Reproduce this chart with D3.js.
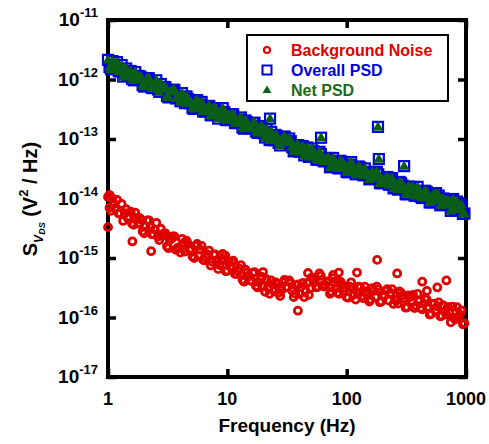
<!DOCTYPE html>
<html>
<head>
<meta charset="utf-8">
<script src="https://cdn.jsdelivr.net/npm/d3@7"></script>
<style>
  html, body { margin: 0; padding: 0; background: #fff; }
  svg { display: block; font-family: Arial, "Liberation Sans", sans-serif; }
</style>
</head>
<body>
<svg id="chart" width="489" height="444"></svg>
<script>
// Frequency grid (Hz), first sweep
const freqHz = [
  1.00,1.06,1.12,1.19,1.26,1.34,1.42,1.50,1.59,1.69,
  1.79,1.90,2.01,2.13,2.26,2.40,2.54,2.69,2.85,3.03,
  3.21,3.40,3.60,3.82,4.05,4.29,4.55,4.82,5.11,5.42,
  5.74,6.09,6.45,6.84,7.25,7.69,8.15,8.64,9.15,9.70,
  10.3,10.9,11.6,12.3,13.0,13.8,14.6,15.5,16.4,17.4,
  18.4,19.5,20.7,21.9,23.3,24.7,26.1,27.7,29.4,31.1,
  33.0,35.0,37.1,39.3,41.6,44.1,46.8,49.6,52.6,55.7,
  59.1,62.6,66.4,70.4,74.6,79.1,83.8,88.8,94.2,99.8,
  106,112,119,126,134,142,150,159,169,179,
  190,201,213,226,240,254,269,285,303,321,
  340,360,382,405,429,455,482,511,542,574,
  609,645,684,725,769,815,864,915,970
];

// Frequency grid (Hz), second sweep (interleaved)
const freqHzB = [
  1.03,1.09,1.15,1.23,1.30,1.38,1.46,1.55,1.64,1.74,
  1.84,1.95,2.07,2.20,2.33,2.47,2.62,2.77,2.94,3.12,
  3.30,3.50,3.71,3.93,4.17,4.42,4.69,4.97,5.27,5.58,
  5.92,6.27,6.65,7.05,7.47,7.92,8.39,8.90,9.43,9.99,
  10.6,11.2,11.9,12.6,13.4,14.2,15.0,16.0,16.9,17.9,
  19.0,20.1,21.3,22.6,24.0,25.4,26.9,28.5,30.2,32.0,
  34.0,36.0,38.2,40.5,42.9,45.4,48.2,51.1,54.1,57.4,
  60.8,64.5,68.4,72.5,76.8,81.4,86.3,91.5,96.9,103,
  109,115,122,130,138,146,155,164,174,184,
  195,207,219,233,247,261,277,294,312,330,
  350,371,393,417,442,468,496,526,558,591,
  627,664,704,746,791,839,889,942
];

// Overall PSD, S_VDS (V^2/Hz), first sweep
const overallPSD = [
  2.14e-12,1.49e-12,1.77e-12,1.96e-12,1.37e-12,1.12e-12,1.53e-12,1.25e-12,1.03e-12,1.33e-12,
  1.0e-12,1.08e-12,7.6e-13,1.05e-12,8.7e-13,7.2e-13,9.7e-13,6.2e-13,7.0e-13,7.4e-13,
  5.0e-13,6.4e-13,6.7e-13,5.0e-13,4.3e-13,5.0e-13,5.2e-13,4.0e-13,3.3e-13,4.3e-13,
  3.3e-13,4.2e-13,2.9e-13,3.3e-13,2.5e-13,3.3e-13,2.8e-13,2.5e-13,3.3e-13,2.1e-13,
  2.5e-13,2.6e-13,1.86e-13,1.98e-13,2.3e-13,1.49e-13,1.91e-13,1.54e-13,1.85e-13,1.33e-13,
  1.45e-13,1.65e-13,1.06e-13,1.16e-13,1.32e-13,9.5e-14,1.11e-13,7.8e-14,1.05e-13,8.9e-14,
  1.02e-13,7.3e-14,6.5e-14,7.9e-14,7.1e-14,5.3e-14,7.2e-14,5.5e-14,6.2e-14,4.5e-14,
  6.1e-14,4.4e-14,4.4e-14,4.8e-14,3.4e-14,4.15e-14,3.3e-14,4.3e-14,3.35e-14,2.8e-14,
  3.7e-14,3.4e-14,2.55e-14,3.45e-14,2.6e-14,3.2e-14,2.5e-14,2.2e-14,2.6e-14,2.8e-14,
  1.81e-14,2.1e-14,2.2e-14,1.7e-14,2.2e-14,1.62e-14,1.41e-14,1.83e-14,1.51e-14,1.18e-14,
  1.52e-14,1.56e-14,1.17e-14,1.28e-14,1.02e-14,1.35e-14,1.06e-14,8.6e-15,1.11e-14,1.02e-14,
  7.7e-15,1.0e-14,7.8e-15,8.0e-15,9.2e-15,6.5e-15,6.7e-15,7.9e-15,5.6e-15
];

// Overall PSD, second sweep
const overallPSDB = [
  1.61e-12,2.04e-12,1.57e-12,1.38e-12,1.75e-12,1.37e-12,1.2e-12,1.39e-12,9.7e-13,1.16e-12,
  1.14e-12,8.0e-13,8.9e-13,1.05e-12,7.2e-13,8.3e-13,6.8e-13,8.4e-13,7.5e-13,5.3e-13,
  6.2e-13,6.7e-13,4.8e-13,5.0e-13,5.9e-13,4.0e-13,4.7e-13,4.1e-13,3.2e-13,4.5e-13,
  3.8e-13,2.9e-13,3.1e-13,3.6e-13,2.7e-13,3.3e-13,2.2e-13,2.8e-13,2.85e-13,2.07e-13,
  2.25e-13,2.6e-13,1.85e-13,2.1e-13,1.56e-13,2.05e-13,1.7e-13,1.5e-13,1.88e-13,1.27e-13,
  1.55e-13,1.25e-13,1.47e-13,9.6e-14,1.17e-13,1.17e-13,8.6e-14,8.8e-14,1.1e-13,8.7e-14,
  9.2e-14,6.2e-14,7.9e-14,6.1e-14,7.6e-14,6.0e-14,5.0e-14,6.9e-14,5.5e-14,4.5e-14,
  5.6e-14,4.2e-14,4.7e-14,3.35e-14,4.8e-14,3.7e-14,3.2e-14,4.0e-14,3.6e-14,2.75e-14,
  4.1e-14,2.9e-14,3.07e-14,3.3e-14,2.45e-14,2.8e-14,2.1e-14,2.8e-14,2.2e-14,2.55e-14,
  1.81e-14,2.0e-14,2.3e-14,2.05e-14,1.48e-14,1.55e-14,1.9e-14,1.66e-14,1.18e-14,1.59e-14,
  1.36e-14,1.11e-14,1.57e-14,1.07e-14,1.18e-14,1.29e-14,8.6e-15,1.11e-14,9.3e-15,1.12e-14,
  7.8e-15,8.5e-15,9.4e-15,6.2e-15,6.8e-15,8.9e-15,7.2e-15,5.5e-15
];

// Net PSD (overall minus background), first sweep
const netPSD = [
  2.13e-12,1.48e-12,1.76e-12,1.95e-12,1.36e-12,1.11e-12,1.52e-12,1.24e-12,1.02e-12,1.32e-12,
  1.0e-12,1.08e-12,7.6e-13,1.05e-12,8.7e-13,7.2e-13,9.7e-13,6.2e-13,7.0e-13,7.4e-13,
  5.0e-13,6.4e-13,6.7e-13,5.0e-13,4.3e-13,5.0e-13,5.2e-13,4.0e-13,3.3e-13,4.3e-13,
  3.3e-13,4.2e-13,2.9e-13,3.3e-13,2.5e-13,3.3e-13,2.8e-13,2.5e-13,3.3e-13,2.1e-13,
  2.5e-13,2.6e-13,1.86e-13,1.98e-13,2.3e-13,1.49e-13,1.91e-13,1.54e-13,1.85e-13,1.33e-13,
  1.45e-13,1.65e-13,1.06e-13,1.16e-13,1.32e-13,9.5e-14,1.11e-13,7.8e-14,1.05e-13,8.9e-14,
  1.02e-13,7.3e-14,6.5e-14,7.9e-14,7.1e-14,5.3e-14,7.2e-14,5.5e-14,6.2e-14,4.5e-14,
  6.1e-14,4.4e-14,4.4e-14,4.8e-14,3.4e-14,4.15e-14,3.3e-14,4.3e-14,3.35e-14,2.8e-14,
  3.7e-14,3.4e-14,2.55e-14,3.45e-14,2.6e-14,3.2e-14,2.5e-14,2.2e-14,2.6e-14,2.8e-14,
  1.81e-14,2.1e-14,2.2e-14,1.7e-14,2.2e-14,1.62e-14,1.41e-14,1.83e-14,1.51e-14,1.18e-14,
  1.52e-14,1.56e-14,1.17e-14,1.28e-14,1.02e-14,1.35e-14,1.06e-14,8.6e-15,1.11e-14,1.02e-14,
  7.7e-15,1.0e-14,7.8e-15,8.0e-15,9.2e-15,6.5e-15,6.7e-15,7.9e-15,5.6e-15
];

// Net PSD, second sweep
const netPSDB = [
  1.60e-12,2.03e-12,1.56e-12,1.37e-12,1.74e-12,1.36e-12,1.2e-12,1.38e-12,9.7e-13,1.16e-12,
  1.14e-12,8.0e-13,8.9e-13,1.05e-12,7.2e-13,8.3e-13,6.8e-13,8.4e-13,7.5e-13,5.3e-13,
  6.2e-13,6.7e-13,4.8e-13,5.0e-13,5.9e-13,4.0e-13,4.7e-13,4.1e-13,3.2e-13,4.5e-13,
  3.8e-13,2.9e-13,3.1e-13,3.6e-13,2.7e-13,3.3e-13,2.2e-13,2.8e-13,2.85e-13,2.07e-13,
  2.25e-13,2.6e-13,1.85e-13,2.1e-13,1.56e-13,2.05e-13,1.7e-13,1.5e-13,1.88e-13,1.27e-13,
  1.55e-13,1.25e-13,1.47e-13,9.6e-14,1.17e-13,1.17e-13,8.6e-14,8.8e-14,1.1e-13,8.7e-14,
  9.2e-14,6.2e-14,7.9e-14,6.1e-14,7.6e-14,6.0e-14,5.0e-14,6.9e-14,5.5e-14,4.5e-14,
  5.6e-14,4.2e-14,4.7e-14,3.35e-14,4.8e-14,3.7e-14,3.2e-14,4.0e-14,3.6e-14,2.75e-14,
  4.1e-14,2.9e-14,3.07e-14,3.3e-14,2.45e-14,2.8e-14,2.1e-14,2.8e-14,2.2e-14,2.55e-14,
  1.81e-14,2.0e-14,2.3e-14,2.05e-14,1.48e-14,1.55e-14,1.9e-14,1.66e-14,1.18e-14,1.59e-14,
  1.36e-14,1.11e-14,1.57e-14,1.07e-14,1.18e-14,1.29e-14,8.6e-15,1.11e-14,9.3e-15,1.12e-14,
  7.8e-15,8.5e-15,9.4e-15,6.2e-15,6.8e-15,8.9e-15,7.2e-15,5.5e-15
];

// Background noise PSD, first sweep
const backgroundNoise = [
  1.06e-14,6.2e-15,8.1e-15,9.5e-15,5.6e-15,4.2e-15,6.6e-15,5.0e-15,3.8e-15,5.8e-15,
  3.8e-15,4.4e-15,2.6e-15,4.3e-15,3.3e-15,2.5e-15,3.9e-15,2.0e-15,2.37e-15,2.6e-15,
  1.46e-15,2.1e-15,2.3e-15,1.48e-15,1.23e-15,1.78e-15,1.95e-15,1.36e-15,1.06e-15,1.59e-15,
  1.11e-15,1.6e-15,9.1e-16,1.15e-15,7.5e-16,1.14e-15,9.1e-16,7.6e-16,1.17e-15,6.0e-16,
  8.4e-16,8.7e-16,5.4e-16,6.0e-16,7.6e-16,4.0e-16,5.7e-16,4.2e-16,5.6e-16,3.4e-16,
  3.9e-16,4.8e-16,2.7e-16,3.2e-16,4.2e-16,2.75e-16,3.7e-16,2.3e-16,3.9e-16,3.25e-16,
  4.2e-16,2.8e-16,2.5e-16,3.6e-16,3.3e-16,2.2e-16,3.8e-16,3.1e-16,4.3e-16,3.2e-16,
  5.5e-16,3.4e-16,3.5e-16,4.1e-16,2.7e-16,3.8e-16,2.6e-16,4.0e-16,2.8e-16,2.2e-16,
  3.3e-16,3.0e-16,2.0e-16,3.3e-16,2.3e-16,3.3e-16,2.4e-16,2.0e-16,2.8e-16,3.3e-16,
  1.81e-16,2.4e-16,2.8e-16,1.92e-16,3.0e-16,2.0e-16,1.71e-16,2.6e-16,2.1e-16,1.48e-16,
  2.2e-16,2.4e-16,1.58e-16,1.87e-16,1.37e-16,2.1e-16,1.51e-16,1.14e-16,1.71e-16,1.54e-16,
  1.05e-16,1.59e-16,1.12e-16,1.2e-16,1.52e-16,9.3e-17,1.0e-16,1.31e-16,8.0e-17
];

// Background noise PSD, second sweep
const backgroundNoiseB = [
  7.0e-15,1.0e-14,6.8e-15,5.6e-15,8.1e-15,5.65e-15,4.7e-15,6.0e-15,3.6e-15,4.7e-15,
  4.7e-15,2.8e-15,3.4e-15,4.3e-15,2.5e-15,3.0e-15,2.3e-15,3.1e-15,2.6e-15,1.57e-15,
  2.0e-15,2.3e-15,1.37e-15,1.5e-15,2.1e-15,1.28e-15,1.72e-15,1.43e-15,1.0e-15,1.72e-15,
  1.38e-15,9.3e-16,1.02e-15,1.33e-15,8.6e-16,1.15e-15,6.5e-16,9.1e-16,9.6e-16,6.1e-16,
  7.1e-16,9.0e-16,5.4e-16,6.7e-16,4.3e-16,6.4e-16,4.85e-16,4.1e-16,5.8e-16,3.2e-16,
  4.4e-16,3.3e-16,4.4e-16,2.5e-16,3.6e-16,3.9e-16,2.6e-16,2.9e-16,4.3e-16,3.2e-16,
  3.8e-16,2.2e-16,3.5e-16,2.5e-16,3.8e-16,2.8e-16,2.4e-16,4.7e-16,3.9e-16,3.3e-16,
  5.0e-16,3.3e-16,3.9e-16,2.5e-16,4.6e-16,3.1e-16,2.5e-16,3.6e-16,3.2e-16,2.15e-16,
  3.9e-16,2.4e-16,2.7e-16,3.2e-16,2.1e-16,2.75e-16,1.85e-16,3.1e-16,2.2e-16,3.0e-16,
  1.86e-16,2.3e-16,3.0e-16,2.6e-16,1.69e-16,1.92e-16,2.75e-16,2.35e-16,1.46e-16,2.35e-16,
  1.91e-16,1.44e-16,2.5e-16,1.44e-16,1.71e-16,2.0e-16,1.12e-16,1.69e-16,1.32e-16,1.79e-16,
  1.07e-16,1.26e-16,1.5e-16,8.3e-17,9.8e-17,1.49e-16,1.13e-16,7.7e-17
];

// Isolated spectral lines in the device spectrum
const spurFreqHz   = [22.8, 61, 183, 186, 303, 561, 780];
const spurOverall  = [2.2e-13, 1.05e-13, 1.6e-13, 4.6e-14, 3.5e-14, 1.23e-14, 9.8e-15];
const spurNet      = [2.2e-13, 1.05e-13, 1.6e-13, 4.6e-14, 3.5e-14, 1.22e-14, 9.7e-15];

// Scattered background points off the main trend
const noiseSpurFreqHz = [1.0, 1.03, 1.6, 2.3, 9.6, 19.9, 39, 47.4, 77, 85, 86, 122, 180, 265, 430, 470, 575, 685];
const noiseSpurPSD    = [3.3e-15, 1.15e-14, 1.9e-15, 1.3e-15, 1.1e-15, 5.8e-16, 1.3e-16, 5.6e-16, 5.2e-16, 3.8e-16, 5.7e-16, 5.7e-16, 9.3e-16, 5.5e-16, 4.0e-16, 2.8e-16, 3.2e-16, 4.2e-16];

// Axis ticks
const xTicks = [1, 10, 100, 1000];
const xTickLabels = ["1", "10", "100", "1000"];
const yTicks = [1e-17, 1e-16, 1e-15, 1e-14, 1e-13, 1e-12, 1e-11];
const yTickExponents = ["-17", "-16", "-15", "-14", "-13", "-12", "-11"];

// Legend entries
const legendLabels = ["Background Noise", "Overall PSD", "Net PSD"];

const RED = "#e00000", BLUE = "#0000e0", GREEN = "#0b5e18";

const svg = d3.select("#chart");
const plotLeft = 108, plotRight = 466, plotTop = 20, plotBottom = 377;

const x = d3.scaleLog().domain([1, 1000]).range([plotLeft, plotRight]);
const y = d3.scaleLog().domain([1e-17, 1e-11]).range([plotBottom, plotTop]);

// Frame
svg.append("rect")
  .attr("x", plotLeft).attr("y", plotTop)
  .attr("width", plotRight - plotLeft).attr("height", plotBottom - plotTop)
  .attr("fill", "none").attr("stroke", "#000").attr("stroke-width", 4);

// Inward ticks on all four sides
function tickAxis(axis, tx, ty) {
  const g = svg.append("g").attr("transform", `translate(${tx},${ty})`).call(axis);
  g.select(".domain").remove();
  g.selectAll(".tick line").attr("stroke", "#000").attr("stroke-width", 3.5);
  g.selectAll(".tick text").remove();
  return g;
}
tickAxis(d3.axisBottom(x).tickValues(xTicks).tickSize(-8).tickFormat(""), 0, plotBottom);
tickAxis(d3.axisTop(x).tickValues(xTicks).tickSize(-8).tickFormat(""), 0, plotTop);
tickAxis(d3.axisLeft(y).tickValues(yTicks).tickSize(-8).tickFormat(""), plotLeft, 0);
tickAxis(d3.axisRight(y).tickValues(yTicks).tickSize(-8).tickFormat(""), plotRight, 0);

// X tick labels
svg.append("g").selectAll("text").data(xTicks).join("text")
  .attr("x", d => x(d)).attr("y", 405)
  .attr("text-anchor", "middle")
  .attr("font-size", 18).attr("font-weight", "bold").attr("fill", "#000")
  .text((d, i) => xTickLabels[i]);

// Y tick labels: 10 with superscript exponent
const yl = svg.append("g").selectAll("text").data(yTicks).join("text")
  .attr("x", 98).attr("y", d => y(d) + 6)
  .attr("text-anchor", "end")
  .attr("font-weight", "bold").attr("fill", "#000");
yl.append("tspan").attr("font-size", 19).text("10");
yl.append("tspan").attr("font-size", 13).attr("dy", -9).text((d, i) => yTickExponents[i]);

// Axis titles
svg.append("text")
  .attr("x", (plotLeft + plotRight) / 2).attr("y", 432)
  .attr("text-anchor", "middle")
  .attr("font-size", 19).attr("font-weight", "bold")
  .text("Frequency (Hz)");

const yt = svg.append("text")
  .attr("transform", `translate(37,199) rotate(-90)`)
  .attr("text-anchor", "middle")
  .attr("font-weight", "bold").attr("font-size", 20);
yt.append("tspan").text("S");
yt.append("tspan").attr("font-size", 12).attr("font-style", "italic").attr("dy", 6).text("V");
yt.append("tspan").attr("font-size", 9).attr("font-style", "italic").attr("dy", 2).text("DS");
yt.append("tspan").attr("dy", -8).text(" (V");
yt.append("tspan").attr("font-size", 13).attr("dy", -9).text("2");
yt.append("tspan").attr("dy", 9).text(" / Hz)");

const pair = (fs, vs) => fs.map((f, i) => [f, vs[i]]);

// Background noise: open red circles
const noisePts = pair(freqHz, backgroundNoise)
  .concat(pair(freqHzB, backgroundNoiseB))
  .concat(pair(noiseSpurFreqHz, noiseSpurPSD));
svg.append("g").selectAll("circle").data(noisePts).join("circle")
  .attr("cx", d => x(d[0])).attr("cy", d => y(d[1])).attr("r", 3.5)
  .attr("fill", "none").attr("stroke", RED).attr("stroke-width", 2.8);

// Overall PSD: open blue squares
const overallPts = pair(freqHz, overallPSD)
  .concat(pair(freqHzB, overallPSDB))
  .concat(pair(spurFreqHz, spurOverall));
svg.append("g").selectAll("rect").data(overallPts).join("rect")
  .attr("x", d => x(d[0]) - 5).attr("y", d => y(d[1]) - 5)
  .attr("width", 10).attr("height", 10)
  .attr("fill", "none").attr("stroke", BLUE).attr("stroke-width", 2.2);

// Net PSD: filled green triangles
const tri = d3.symbol().type(d3.symbolTriangle).size(50);
const netPts = pair(freqHz, netPSD)
  .concat(pair(freqHzB, netPSDB))
  .concat(pair(spurFreqHz, spurNet));
svg.append("g").selectAll("path").data(netPts).join("path")
  .attr("d", tri)
  .attr("transform", d => `translate(${x(d[0])},${y(d[1]) + 0.5})`)
  .attr("fill", GREEN);

// Legend
const lg = svg.append("g");
lg.append("rect").attr("x", 247).attr("y", 35).attr("width", 201).attr("height", 66)
  .attr("fill", "#fff").attr("stroke", "#000").attr("stroke-width", 2);
const rowY = [50, 70, 90];
const legendColors = [RED, BLUE, "#1a6b1a"];
lg.append("circle").attr("cx", 267).attr("cy", rowY[0]).attr("r", 3)
  .attr("fill", "none").attr("stroke", RED).attr("stroke-width", 2.2);
lg.append("rect").attr("x", 262.5).attr("y", rowY[1] - 4.5).attr("width", 9).attr("height", 9)
  .attr("fill", "none").attr("stroke", BLUE).attr("stroke-width", 2);
lg.append("path").attr("d", d3.symbol().type(d3.symbolTriangle).size(34))
  .attr("transform", `translate(267,${rowY[2] + 0.5})`).attr("fill", GREEN);
lg.selectAll("text").data(legendLabels).join("text")
  .attr("x", 291).attr("y", (d, i) => rowY[i] + 6)
  .attr("font-size", 16).attr("font-weight", "bold")
  .attr("fill", (d, i) => legendColors[i])
  .text(d => d);
</script>
</body>
</html>
